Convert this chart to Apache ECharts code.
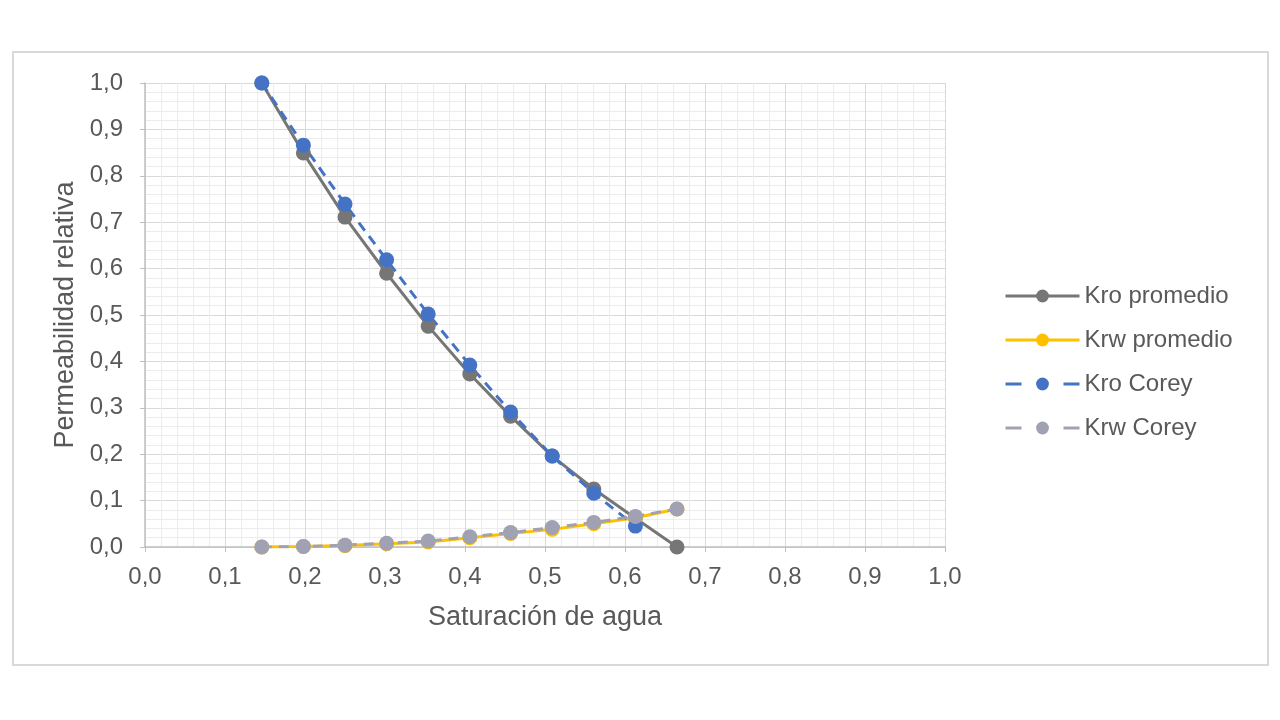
<!DOCTYPE html>
<html>
<head>
<meta charset="utf-8">
<script src="https://cdn.jsdelivr.net/npm/echarts@6/dist/echarts.min.js"></script>
<style>
  html, body { margin: 0; padding: 0; background: #fff; }
  #chart { width: 1280px; height: 720px; }
</style>
</head>
<body>
<div id="chart"></div>
<script>
// water saturation at each measured point
const sw = [0.146, 0.198, 0.250, 0.302, 0.354, 0.406, 0.457, 0.509, 0.561, 0.613, 0.665];

const kroPromedio = [1.0, 0.849, 0.711, 0.590, 0.476, 0.373, 0.282, 0.196, 0.125, 0.062, 0.0];
const krwPromedio = [0.0, 0.001, 0.003, 0.007, 0.011, 0.020, 0.029, 0.038, 0.050, 0.063, 0.082];
const kroCorey = [1.0, 0.866, 0.739, 0.619, 0.502, 0.392, 0.291, 0.196, 0.116, 0.045];
const krwCorey = [0.0, 0.001, 0.004, 0.008, 0.013, 0.022, 0.031, 0.042, 0.053, 0.066, 0.082];

const seriesNames = ['Kro promedio', 'Krw promedio', 'Kro Corey', 'Krw Corey'];

const pairs = (ys) => ys.map((y, i) => [sw[i], y]);
const fmt = (v) => v.toFixed(1).replace('.', ',');

const chart = echarts.init(document.getElementById('chart'));

const txt = '#595959';
// legend dash: one short dash each side of the marker
const legendDash = { width: 3, type: [16, 42] };

const option = {
  backgroundColor: '#fff',
  animation: false,
  textStyle: { fontFamily: 'Liberation Sans, Arial, sans-serif' },
  graphic: [{
    type: 'rect',
    shape: { x: 13, y: 52, width: 1255, height: 613 },
    style: { fill: 'none', stroke: '#d9d9d9', lineWidth: 2 },
    silent: true,
    z: -1
  }],
  legend: {
    orient: 'vertical',
    left: 999,
    top: 279,
    itemWidth: 74,
    itemHeight: 16,
    itemGap: 20,
    lineStyle: { width: 3 },
    data: [
      { name: seriesNames[0] },
      { name: seriesNames[1] },
      { name: seriesNames[2], lineStyle: legendDash },
      { name: seriesNames[3], lineStyle: legendDash }
    ],
    textStyle: { color: txt, fontSize: 24, padding: [0, 0, 0, 0] }
  },
  grid: { left: 145, right: 335, top: 83, bottom: 173 },
  xAxis: {
    type: 'value',
    min: 0,
    max: 1,
    interval: 0.1,
    name: 'Saturación de agua',
    nameLocation: 'middle',
    nameGap: 57,
    nameTextStyle: { color: txt, fontSize: 27 },
    axisLine: { show: true, lineStyle: { color: '#bfbfbf', width: 1.5 } },
    axisTick: { show: true, length: 5, lineStyle: { color: '#bfbfbf' } },
    axisLabel: { color: txt, fontSize: 24, margin: 18, formatter: fmt },
    splitLine: { show: true, lineStyle: { color: '#d9d9d9', width: 1 } },
    minorTick: { show: false, splitNumber: 5 },
    minorSplitLine: { show: true, lineStyle: { color: '#ececec', width: 1 } }
  },
  yAxis: {
    type: 'value',
    min: 0,
    max: 1,
    interval: 0.1,
    name: 'Permeabilidad relativa',
    nameLocation: 'middle',
    nameGap: 66,
    nameTextStyle: { color: txt, fontSize: 27 },
    axisLine: { show: true, lineStyle: { color: '#bfbfbf', width: 1.5 } },
    axisTick: { show: true, length: 5, lineStyle: { color: '#bfbfbf' } },
    axisLabel: { color: txt, fontSize: 24, margin: 22, formatter: fmt },
    splitLine: { show: true, lineStyle: { color: '#d9d9d9', width: 1 } },
    minorTick: { show: false, splitNumber: 5 },
    minorSplitLine: { show: true, lineStyle: { color: '#ececec', width: 1 } }
  },
  series: [
    {
      name: 'Kro promedio',
      type: 'line',
      data: pairs(kroPromedio),
      symbol: 'circle',
      symbolSize: 15,
      lineStyle: { color: '#767676', width: 3 },
      itemStyle: { color: '#767676' }
    },
    {
      name: 'Krw promedio',
      type: 'line',
      data: pairs(krwPromedio),
      symbol: 'circle',
      symbolSize: 15,
      lineStyle: { color: '#ffc000', width: 3 },
      itemStyle: { color: '#ffc000' }
    },
    {
      name: 'Kro Corey',
      type: 'line',
      data: pairs(kroCorey),
      symbol: 'circle',
      symbolSize: 15,
      lineStyle: { color: '#4472c4', width: 3, type: [10, 7] },
      itemStyle: { color: '#4472c4' }
    },
    {
      name: 'Krw Corey',
      type: 'line',
      data: pairs(krwCorey),
      symbol: 'circle',
      symbolSize: 15,
      lineStyle: { color: '#a0a1b3', width: 3, type: [10, 7] },
      itemStyle: { color: '#a0a1b3' }
    }
  ]
};

chart.setOption(option);
</script>
</body>
</html>
